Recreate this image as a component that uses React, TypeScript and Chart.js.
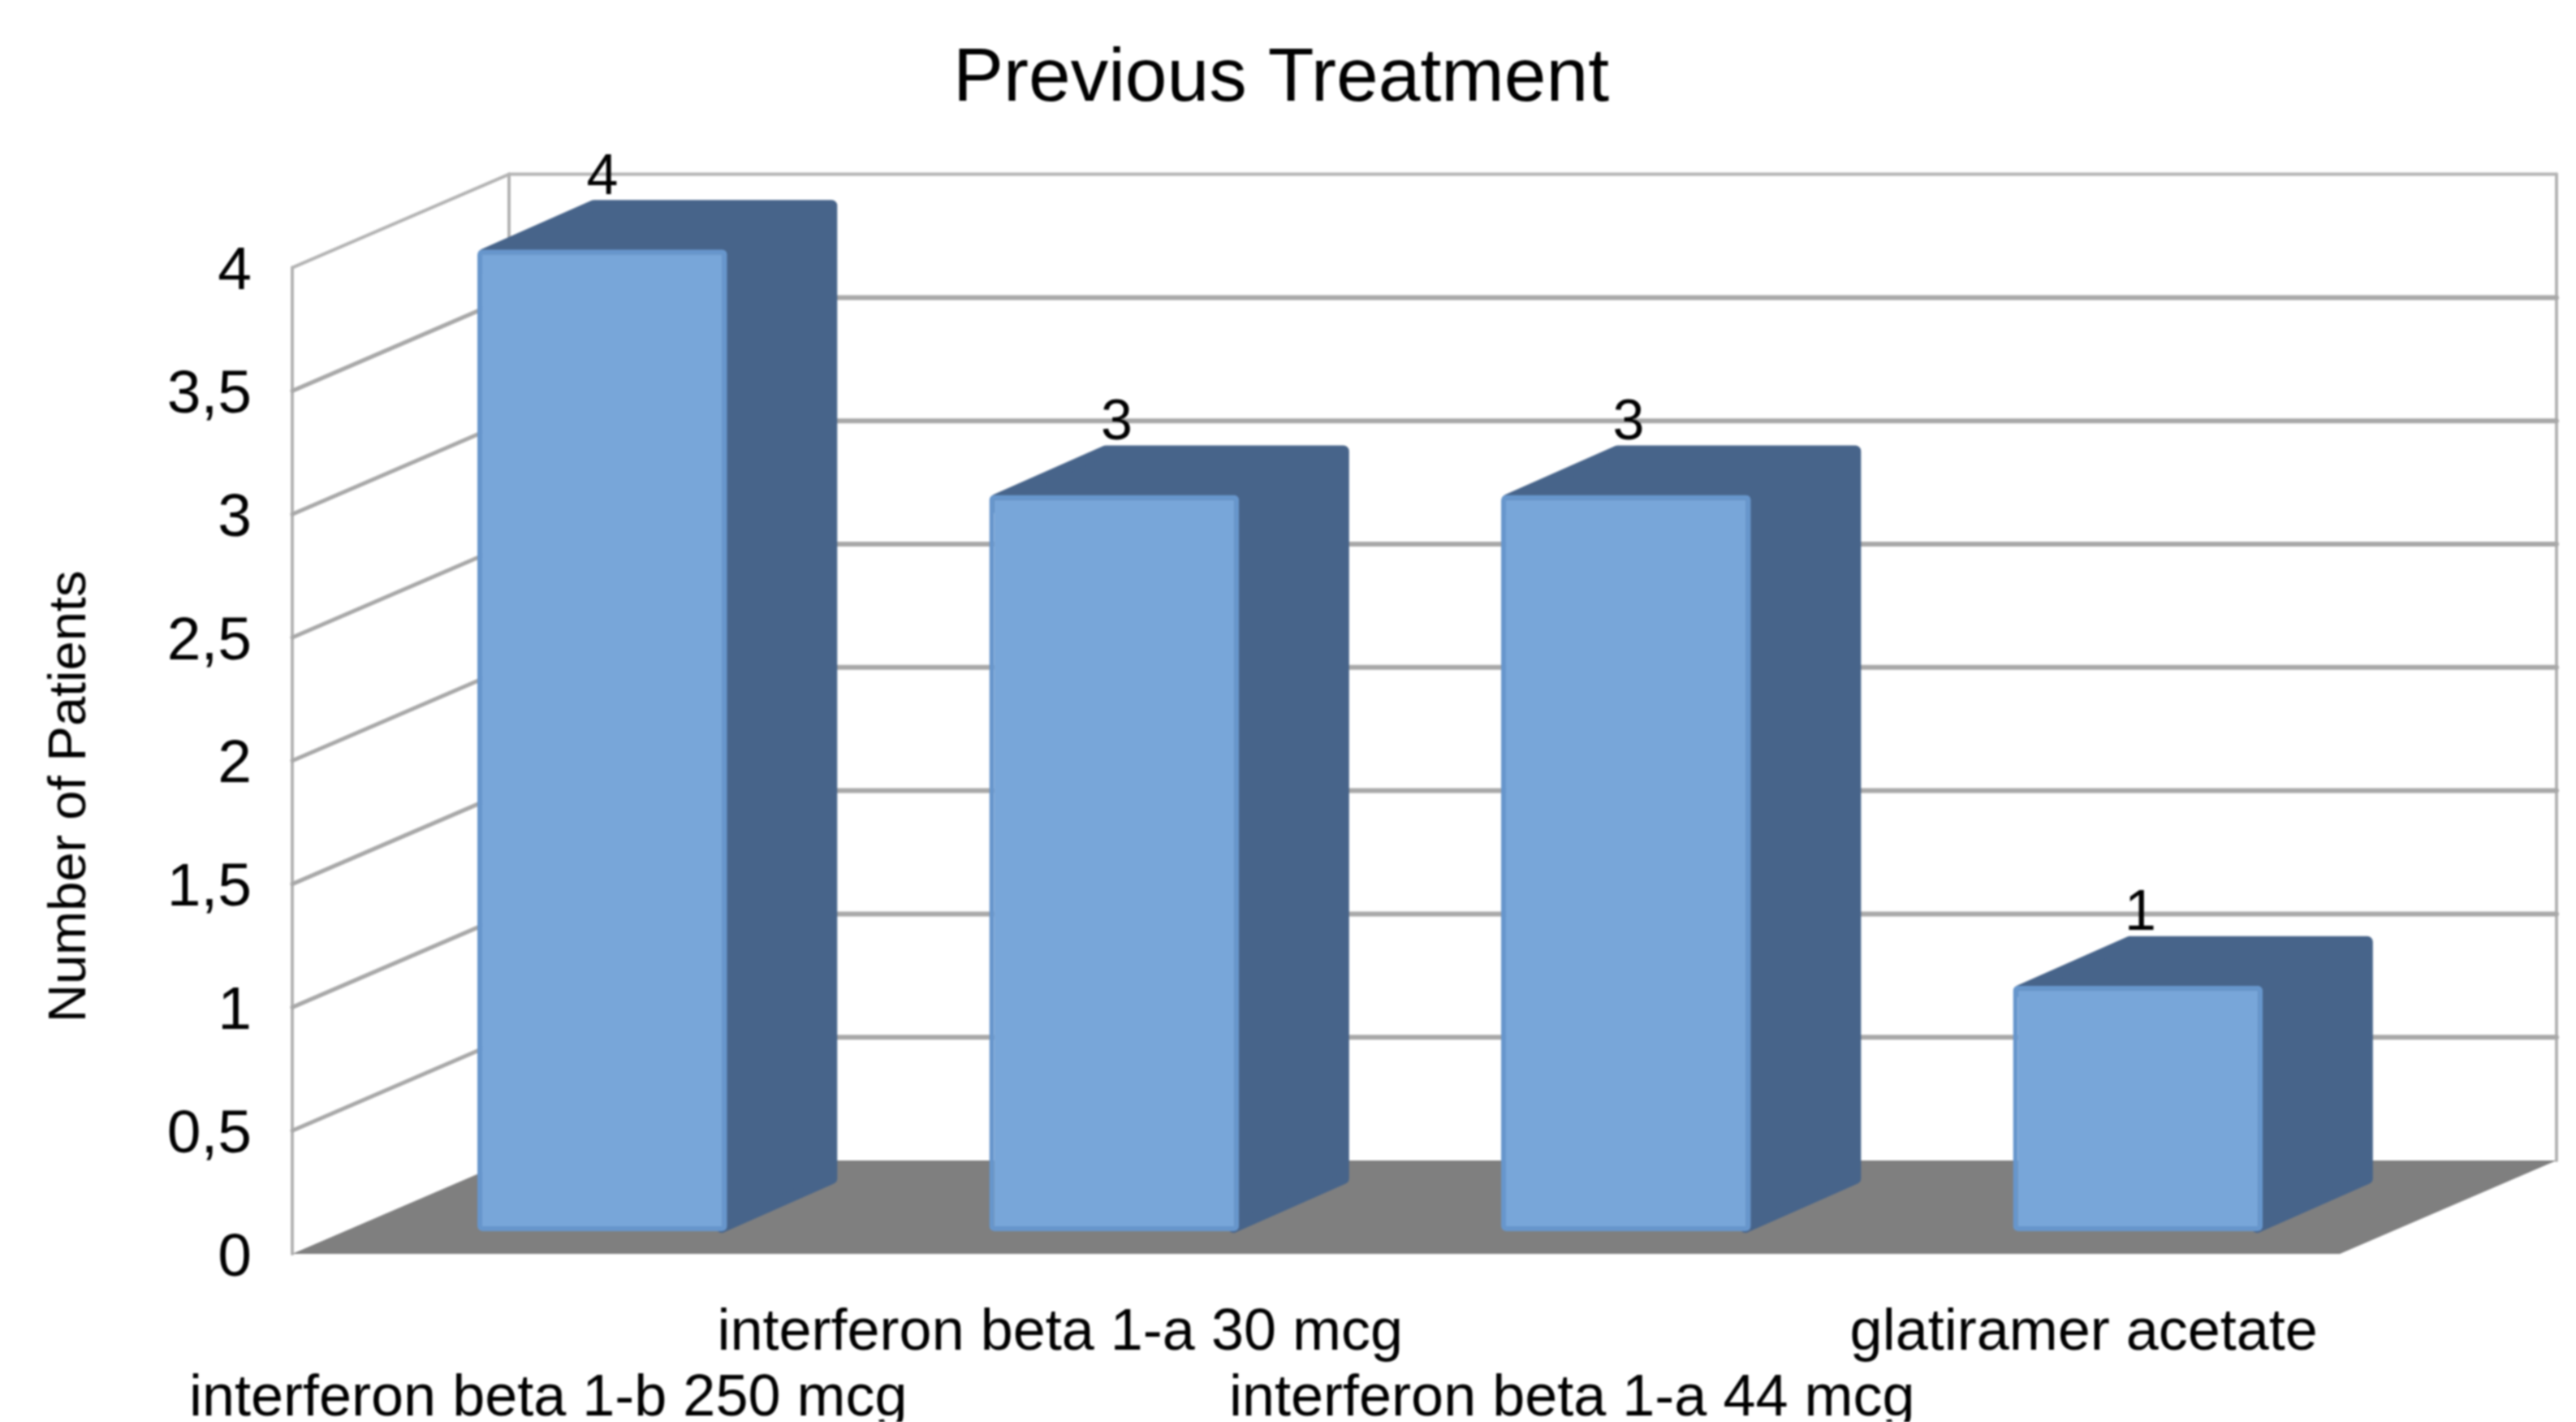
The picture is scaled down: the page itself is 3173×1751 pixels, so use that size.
import React, { useEffect, useRef } from "react";
import { Chart, registerables } from "chart.js";

Chart.register(...registerables);

const chartTitle = "Previous Treatment";
const yAxisTitle = "Number of Patients";
const categories = [
  "interferon beta 1-b 250 mcg",
  "interferon beta 1-a 30 mcg",
  "interferon beta 1-a 44 mcg",
  "glatiramer acetate",
];
const patients = [4, 3, 3, 1];
const yTickLabels = ["0", "0,5", "1", "1,5", "2", "2,5", "3", "3,5", "4"];

const W = 3173;
const H = 1751;
const FONT = "'Liberation Sans', Arial, sans-serif";
const DEPTH_X = 267;
const DEPTH_Y = 115;
const BAR_SHIFT_X = 66.6;
const BAR_DEPTH_X = 135.6;
const BAR_DEPTH_Y = 60;
const TITLE_CENTER_X = 1578;
const Y_TITLE_SHIFT = 44;

const threeD = {
  id: "threeD",
  afterLayout(chart: any) {
    chart.titleBlock.left = TITLE_CENTER_X - W / 2;
    chart.titleBlock.right = TITLE_CENTER_X + W / 2;
    const s = chart.scales.y;
    if (!s.__wrapped) {
      const orig = s.drawTitle.bind(s);
      s.drawTitle = (...a: any[]) => {
        chart.ctx.save();
        chart.ctx.translate(0, Y_TITLE_SHIFT);
        orig(...a);
        chart.ctx.restore();
      };
      s.__wrapped = true;
    }
  },
  beforeDatasetsDraw(chart: any) {
    const { ctx, chartArea: a, scales } = chart;
    const y = scales.y;
    const y0 = y.getPixelForValue(0);
    const yTop = y.getPixelForValue(4);
    ctx.save();
    ctx.lineCap = "round";
    // walls outline
    ctx.strokeStyle = "#b3b3b3";
    ctx.lineWidth = 4;
    ctx.beginPath();
    ctx.moveTo(a.left, y0);
    ctx.lineTo(a.left, yTop);
    ctx.moveTo(a.left + DEPTH_X, y0 - DEPTH_Y);
    ctx.lineTo(a.left + DEPTH_X, yTop - DEPTH_Y);
    ctx.moveTo(a.right + DEPTH_X, y0 - DEPTH_Y);
    ctx.lineTo(a.right + DEPTH_X, yTop - DEPTH_Y);
    ctx.stroke();
    // grid lines
    y.ticks.forEach((t: any) => {
      const py = y.getPixelForValue(t.value);
      if (t.value === 0) return;
      const top = t.value === 4;
      ctx.strokeStyle = top ? "#b3b3b3" : "#a8a8a8";
      ctx.lineWidth = top ? 4 : 5;
      ctx.beginPath();
      ctx.moveTo(a.left, py);
      ctx.lineTo(a.left + DEPTH_X, py - DEPTH_Y);
      ctx.stroke();
      ctx.lineWidth = top ? 4 : 6;
      ctx.beginPath();
      ctx.moveTo(a.left + DEPTH_X, py - DEPTH_Y);
      ctx.lineTo(a.right + DEPTH_X, py - DEPTH_Y);
      ctx.stroke();
    });
    // floor
    ctx.fillStyle = "#7f7f7f";
    ctx.beginPath();
    ctx.moveTo(a.left, y0);
    ctx.lineTo(a.right, y0);
    ctx.lineTo(a.right + DEPTH_X, y0 - DEPTH_Y);
    ctx.lineTo(a.left + DEPTH_X, y0 - DEPTH_Y);
    ctx.closePath();
    ctx.fill();
    // bar sides and tops
    const meta = chart.getDatasetMeta(0);
    ctx.fillStyle = "#47648a";
    ctx.strokeStyle = "#47648a";
    ctx.lineWidth = 14;
    ctx.lineJoin = "round";
    meta.data.forEach((el: any) => {
      const p = el.getProps(["x", "y", "base", "width"], true);
      const l = p.x + BAR_SHIFT_X - p.width / 2 + 8;
      const r = p.x + BAR_SHIFT_X + p.width / 2 - 7;
      const t = p.y + 6;
      const b = p.base - 5;
      ctx.beginPath();
      ctx.moveTo(l, t);
      ctx.lineTo(l + BAR_DEPTH_X, t - BAR_DEPTH_Y);
      ctx.lineTo(r + BAR_DEPTH_X, t - BAR_DEPTH_Y);
      ctx.lineTo(r + BAR_DEPTH_X, b - BAR_DEPTH_Y);
      ctx.lineTo(r, b);
      ctx.closePath();
      ctx.fill();
      ctx.stroke();
    });
    ctx.restore();
    ctx.save();
    ctx.translate(BAR_SHIFT_X, 0);
  },
  afterDatasetsDraw(chart: any) {
    const { ctx } = chart;
    ctx.restore();
    const meta = chart.getDatasetMeta(0);
    ctx.save();
    ctx.fillStyle = "#000";
    ctx.font = `70px ${FONT}`;
    ctx.textAlign = "center";
    ctx.textBaseline = "middle";
    meta.data.forEach((el: any, i: number) => {
      const p = el.getProps(["x", "y"], true);
      ctx.fillText(String(patients[i]), p.x + BAR_SHIFT_X + (i === 0 ? 0 : 3), p.y - 88);
    });
    ctx.restore();
  },
};

export default function App() {
  const ref = useRef<HTMLCanvasElement>(null);
  useEffect(() => {
    const chart = new Chart(ref.current as HTMLCanvasElement, {
      type: "bar",
      data: {
        labels: categories,
        datasets: [
          {
            data: patients,
            yAxisID: "yBars",
            backgroundColor: "#78a6d9",
            borderColor: "#6796cc",
            borderWidth: 6,
            borderRadius: 6,
            borderSkipped: false,
            categoryPercentage: 1,
            barPercentage: 0.488,
            clip: false,
          } as any,
        ],
      },
      plugins: [threeD],
      options: {
        animation: false,
        responsive: false,
        devicePixelRatio: 1,
        layout: { padding: { left: 0, right: 291, top: 0, bottom: 0 } },
        plugins: {
          legend: { display: false },
          tooltip: { enabled: false },
          title: {
            display: true,
            text: chartTitle,
            color: "#000",
            font: { family: FONT, size: 93, weight: "normal", lineHeight: 1.2 },
            padding: { top: 43, bottom: 175 },
          },
        },
        scales: {
          x: {
            type: "category",
            grid: { display: false },
            border: { display: false },
            afterFit: (s: any) => {
              s.height = 207;
            },
            ticks: {
              autoSkip: false,
              maxRotation: 0,
              minRotation: 0,
              padding: 50,
              color: "#000",
              font: { family: FONT, size: 72, lineHeight: 1.125 },
              callback: (_v: any, i: number) =>
                i % 2 === 0 ? ["", categories[i]] : [categories[i], ""],
            },
          },
          y: {
            min: 0,
            max: 4,
            grid: { display: false },
            border: { display: false },
            afterFit: (s: any) => {
              s.width = 360;
            },
            title: {
              display: true,
              text: yAxisTitle,
              color: "#000",
              font: { family: FONT, size: 65, lineHeight: 1.2 },
              padding: { top: 48, bottom: 0 },
            },
            ticks: {
              stepSize: 0.5,
              padding: 42,
              labelOffset: 6,
              color: "#000",
              font: { family: FONT, size: 75 },
              callback: (_v: any, i: number) => yTickLabels[i],
            },
          },
          yBars: {
            display: false,
            min: -0.0927,
            max: 3.926,
            position: "left",
          },
        },
      } as any,
    });
    return () => chart.destroy();
  }, []);
  return (
    <div style={{ position: "fixed", inset: 0, background: "#fff" }}>
      <canvas ref={ref} width={W} height={H} style={{ display: "block", filter: "blur(1.2px)" }} />
    </div>
  );
}
